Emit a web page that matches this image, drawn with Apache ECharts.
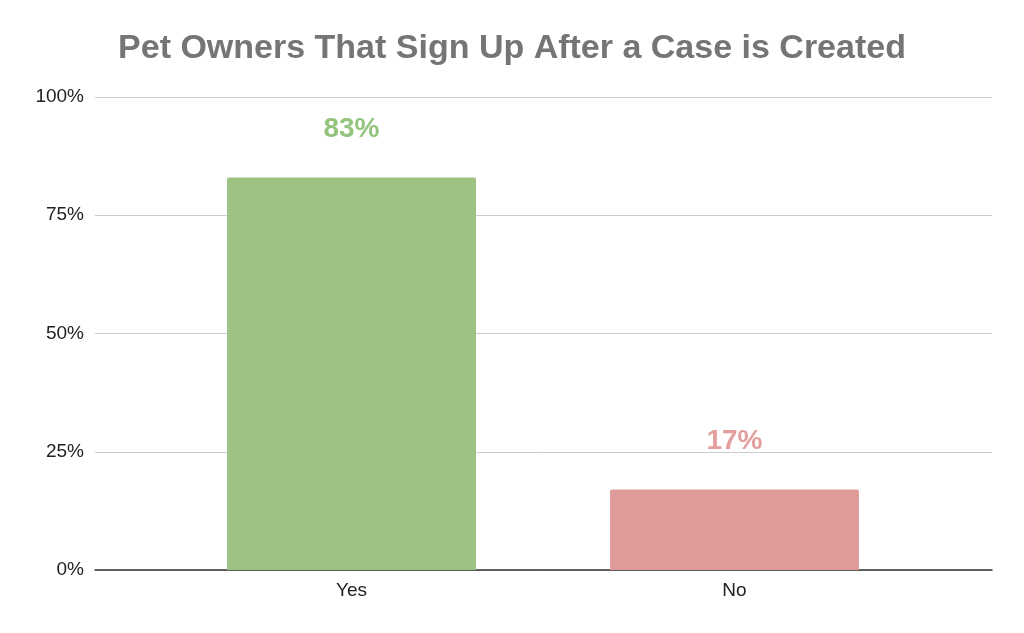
<!DOCTYPE html>
<html>
<head>
<meta charset="utf-8">
<script src="https://cdn.jsdelivr.net/npm/echarts@6/dist/echarts.min.js"></script>
<style>html,body{margin:0;padding:0;background:#fff;}#c{width:1024px;height:633px;}</style>
</head>
<body>
<div id="c"></div>
<script>
const categories = ["Yes", "No"];
const values = [83, 17];
const barColors = ["#9dc284", "#de9b99"];
const labelColors = ["#93c47d", "#e39f9d"];
const yTicks = [0, 25, 50, 75, 100];

const font = 'Liberation Sans, Arial';
const chart = echarts.init(document.getElementById('c'));
chart.setOption({
  animation: false,
  title: {
    text: 'Pet Owners That Sign Up After a Case is Created',
    left: 'center', top: 27,
    textStyle: { fontFamily: font, fontSize: 34, fontWeight: 'bold', color: '#757575' }
  },
  grid: [
    { left: 95, right: 32, top: 97, bottom: 63 },
    { left: 160, right: 98, top: 97, bottom: 63 }
  ],
  xAxis: [
    {
      type: 'category', gridIndex: 0, data: [''],
      axisLine: { lineStyle: { color: '#333', width: 1.5 } },
      axisTick: { show: false }, axisLabel: { show: false }
    },
    {
      type: 'category', gridIndex: 1, data: categories,
      axisLine: { show: false },
      axisTick: { show: false },
      axisLabel: { fontFamily: font, fontSize: 19, color: '#222', margin: 11 }
    }
  ],
  yAxis: [
    {
      type: 'value', gridIndex: 0, min: yTicks[0], max: yTicks[yTicks.length - 1], interval: 25,
      axisLine: { show: false }, axisTick: { show: false },
      splitLine: { lineStyle: { color: '#cccccc', width: 1 } },
      axisLabel: { fontFamily: font, fontSize: 19, color: '#222', margin: 11, formatter: '{value}%' }
    },
    {
      type: 'value', gridIndex: 1, min: yTicks[0], max: yTicks[yTicks.length - 1], interval: 25,
      show: false, splitLine: { show: false }
    }
  ],
  series: [{
    type: 'bar', xAxisIndex: 1, yAxisIndex: 1, barWidth: '65%',
    data: values.map((v, i) => ({
      value: v,
      itemStyle: { color: barColors[i], borderRadius: [2, 2, 0, 0] },
      label: { color: labelColors[i] }
    })),
    label: {
      show: true, position: 'top', distance: 34,
      formatter: '{c}%',
      fontFamily: font, fontSize: 28, fontWeight: 'bold',
      textBorderColor: '#fff', textBorderWidth: 3
    },
    z: 3
  }]
});
</script>
</body>
</html>
